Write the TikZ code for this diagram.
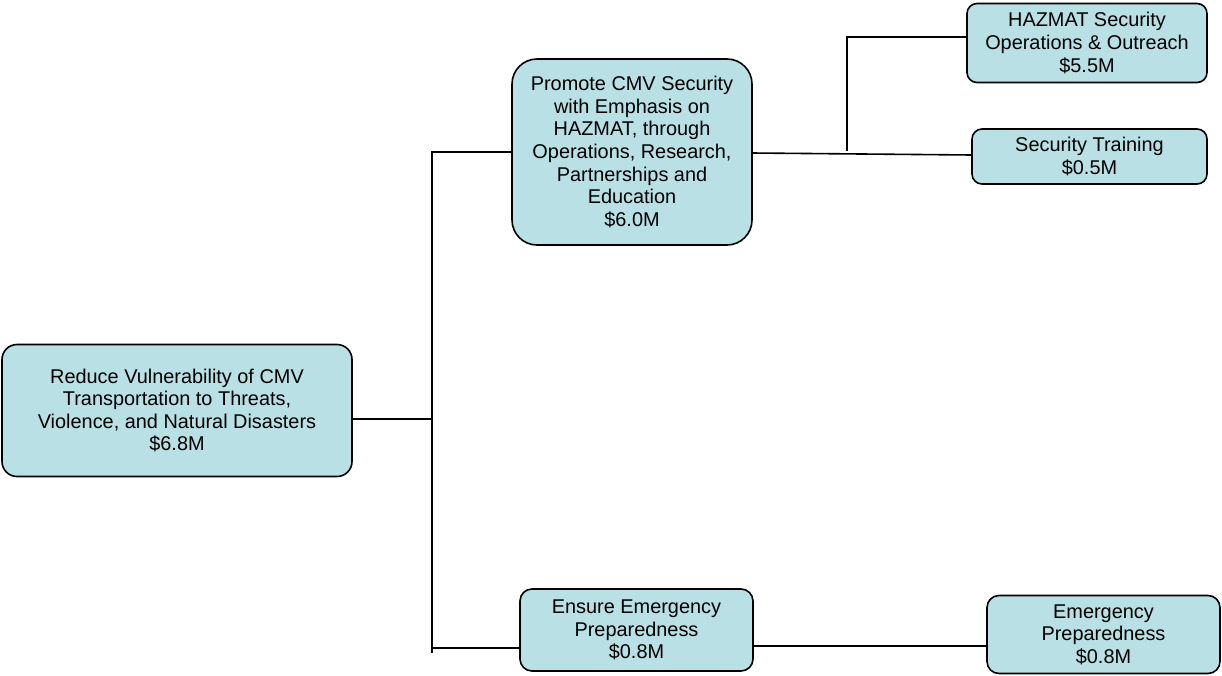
\documentclass[tikz,border=0pt]{standalone}
\usepackage{fontspec}
\setmainfont{Liberation Sans}
\definecolor{boxfill}{RGB}{185,224,228}
\tikzset{
  goalbox/.style={draw=black, fill=boxfill, line width=1.6pt, align=center,
    inner sep=0pt, outer sep=0pt, font=\fontsize{19.9}{22.6}\selectfont},
  link/.style={draw=black, line width=1.6pt}
}
\begin{document}
\begin{tikzpicture}[x=1pt,y=-1pt]
\useasboundingbox (0,0) rectangle (1222,675);
\node[goalbox, rounded corners=15pt, minimum width=350pt, minimum height=132pt] (root) at (177,410.5)
  {Reduce Vulnerability of CMV\\Transportation to Threats,\\Violence, and Natural Disasters\\\$6.8M};
\node[goalbox, rounded corners=25pt, minimum width=240pt, minimum height=186pt] (promote) at (632,152)
  {Promote CMV Security\\with Emphasis on\\HAZMAT, through\\Operations, Research,\\Partnerships and\\Education\\\$6.0M};
\node[goalbox, rounded corners=10pt, minimum width=240pt, minimum height=79pt] (hazmat) at (1087,43)
  {HAZMAT Security\\Operations \& Outreach\\\$5.5M};
\node[goalbox, rounded corners=10pt, minimum width=235pt, minimum height=55pt] (sectrain) at (1089.5,156.5)
  {Security Training\\\$0.5M};
\node[goalbox, rounded corners=12pt, minimum width=233pt, minimum height=82pt] (ensure) at (636.5,630)
  {Ensure Emergency\\Preparedness\\\$0.8M};
\node[goalbox, rounded corners=12pt, minimum width=233pt, minimum height=78pt] (emerg) at (1103.5,634.5)
  {Emergency\\Preparedness\\\$0.8M};
% junction coordinates
\coordinate (j1) at (432,419);
\coordinate (jt) at (432,152);
\coordinate (jb) at (432,653);
\coordinate (je) at (432,648);
\coordinate (ee) at (988,646);
\coordinate (kt) at (847,37);
\coordinate (kb) at (847,151);
\coordinate (pr) at (752,153);
\coordinate (sr) at (972,155);
% connectors
\draw[link] (j1 -| root.east) -- (j1);
\draw[link] (jt -| promote.west) -- (jt) -- (jb);
\draw[link] (je) -- (je -| ensure.west);
\draw[link] (ensure.east |- ee) -- (ee -| emerg.west);
\draw[link] (promote.east |- pr) -- (sr -| sectrain.west);
\draw[link] (kb) -- (kt) -- (kt -| hazmat.west);
\end{tikzpicture}
\end{document}
